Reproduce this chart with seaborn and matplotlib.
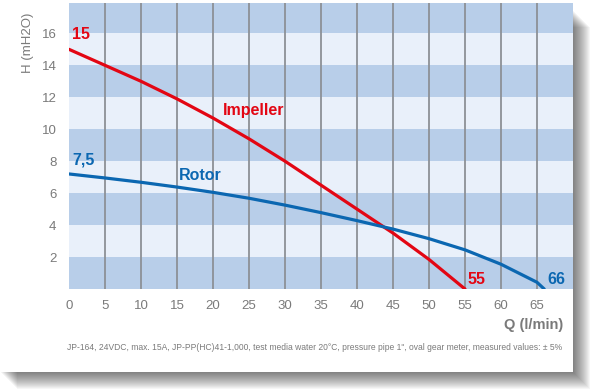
import seaborn as sns
import matplotlib.pyplot as plt
import pandas as pd
from matplotlib.patches import Rectangle

# pump curves
q_impeller = [0, 5, 10, 15, 20, 25, 30, 35, 40, 45, 50, 55]
h_impeller = [15.0, 14.0, 13.0, 11.9, 10.7, 9.4, 8.0, 6.5, 5.0, 3.5, 1.85, 0.0]

q_rotor = [0, 5, 10, 15, 20, 25, 30, 35, 40, 45, 50, 55, 60, 65, 66]
h_rotor = [7.2, 6.95, 6.68, 6.38, 6.05, 5.68, 5.25, 4.78, 4.28, 3.75, 3.15, 2.45, 1.55, 0.42, 0.0]

x_ticks = list(range(0, 70, 5))
y_ticks = [2, 4, 6, 8, 10, 12, 14, 16]

caption = ('JP-164, 24VDC, max. 15A, JP-PP(HC)41-1,000, test media water 20°C, '
           'pressure pipe 1", oval gear meter, measured values: ± 5%')

RED = "#e30613"
BLUE = "#0b67b1"
GRAY = "#7a7a7a"
DARK_BAND = "#b8cee9"
LIGHT_BAND = "#e9f0fa"

sns.set_style("white")
plt.rcParams['font.family'] = ['Liberation Sans Narrow', 'Liberation Sans', 'DejaVu Sans']

df_imp = pd.DataFrame({"Q": q_impeller, "H": h_impeller})
df_rot = pd.DataFrame({"Q": q_rotor, "H": h_rotor})

W, H = 591, 390
fig = plt.figure(figsize=(W / 100, H / 100), dpi=100)

# card with soft drop shadow
card_r, card_b = 573, 372
for s in range(1, 18):
    fig.patches.append(Rectangle((s / W, (H - card_b - s) / H), card_r / W, (card_b - 10) / H,
                                 transform=fig.transFigure, color="black", alpha=0.035,
                                 lw=0, zorder=-3))
fig.patches.append(Rectangle((0, (H - card_b) / H), card_r / W, card_b / H,
                             transform=fig.transFigure, color="white", lw=0, zorder=-2))

ax = fig.add_axes([69 / W, (H - 289) / H, (card_r - 69) / W, 286 / H])
ax.set_facecolor(LIGHT_BAND)
ax.set_xlim(0, 70)
ax.set_ylim(0, 17.9)

# horizontal stripes every 2 m
for lo in range(0, 18, 4):
    ax.axhspan(lo, lo + 2, color=DARK_BAND, lw=0, zorder=0)
for x in range(5, 70, 5):
    ax.axvline(x, color="#8c9096", lw=1.3, zorder=1)

sns.lineplot(data=df_imp, x="Q", y="H", color=RED, lw=2.3, ax=ax, zorder=3)
sns.lineplot(data=df_rot, x="Q", y="H", color=BLUE, lw=2.3, ax=ax, zorder=3)

lab = dict(fontsize=11.5, fontweight="bold", va="center", ha="left")
ax.text(0.4, 15.9, "15", color=RED, **lab)
ax.text(0.4, 8.1, "7,5", color=BLUE, **lab)
ax.text(21.4, 11.2, "Impeller", color=RED, **lab)
ax.text(15.3, 7.1, "Rotor", color=BLUE, **lab)
ax.text(55.4, 0.6, "55", color=RED, **lab)
ax.text(66.5, 0.6, "66", color=BLUE, **lab)

ax.set_xticks(x_ticks)
ax.set_yticks(y_ticks)
ax.tick_params(axis="both", length=0, labelsize=9.5, labelcolor=GRAY)
ax.tick_params(axis="x", pad=8)
ax.tick_params(axis="y", pad=9)
for sp in ax.spines.values():
    sp.set_visible(False)
ax.set_xlabel("")
ax.set_ylabel("")

ax.text(-0.081, 0.86, "H (mH2O)", transform=ax.transAxes, rotation=90,
        ha="center", va="center", fontsize=9.5, color=GRAY)
ax.text(0.98, -0.126, "Q (l/min)", transform=ax.transAxes, ha="right", va="center",
        fontsize=10.5, fontweight="bold", color=GRAY)
fig.text(67 / W, (H - 347) / H, caption, ha="left", va="center", fontsize=6.15, color=GRAY)

fig.savefig("out.png", dpi=100)
